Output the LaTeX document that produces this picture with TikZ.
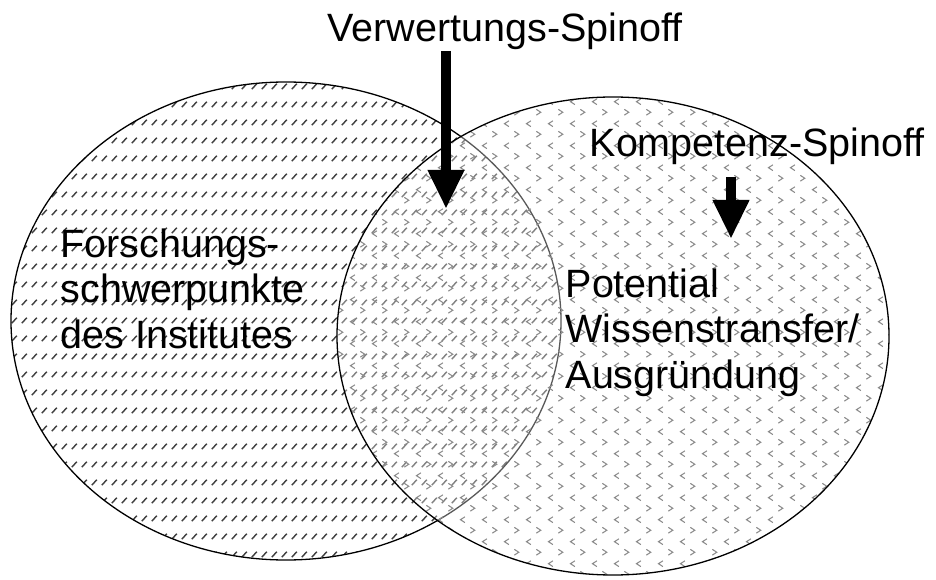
\documentclass[tikz,border=0pt]{standalone}
\usepackage{fontspec}
\setmainfont{Liberation Sans}
\usepackage{tikz}
\usetikzlibrary{arrows.meta,patterns,calc}
\pgfdeclarepatternformonly{slashrows}{\pgfqpoint{0pt}{0pt}}{\pgfqpoint{10pt}{17.5pt}}{\pgfqpoint{10pt}{17.5pt}}{
	\pgfsetlinewidth{1.5pt}
	\pgfpathmoveto{\pgfqpoint{2pt}{5pt}}
	\pgfpathlineto{\pgfqpoint{7.5pt}{10.5pt}}
	\pgfusepath{stroke}}
\pgfdeclarepatternformonly{chevrons}{\pgfqpoint{0pt}{0pt}}{\pgfqpoint{21.7pt}{22pt}}{\pgfqpoint{21.7pt}{22pt}}{
	\pgfsetlinewidth{1.1pt}
	\pgfpathmoveto{\pgfqpoint{8pt}{20pt}}
	\pgfpathlineto{\pgfqpoint{3.5pt}{17pt}}
	\pgfpathlineto{\pgfqpoint{8pt}{14pt}}
	\pgfpathmoveto{\pgfqpoint{13.5pt}{9pt}}
	\pgfpathlineto{\pgfqpoint{18pt}{6pt}}
	\pgfpathlineto{\pgfqpoint{13.5pt}{3pt}}
	\pgfusepath{stroke}}
\tikzset{
	venn label/.style={font=\fontsize{39.5}{45.5}\selectfont, inner sep=0pt, align=left},
	venn set/.style={x radius=#1, y radius=239pt},
	research/.style={pattern=slashrows, pattern color=black!75},
	transfer/.style={pattern=chevrons, pattern color=black!45},
	spinoff/.style={line width=10pt, -{Triangle[width=34pt,length=39pt]}}
}

\begin{document}
\begin{tikzpicture}[x=1pt,y=1pt,line width=1.3pt]
  \fill[white] (0,0) rectangle (936,579);
  \coordinate (L) at (286,258);
  \coordinate (R) at (613,243);
  \fill[research] (L) ellipse [venn set=275pt];
  \draw (L) ellipse [venn set=275pt];
  \fill[white, fill opacity=.35] (R) ellipse [venn set=276pt];
  \fill[transfer] (R) ellipse [venn set=276pt];
  \draw (R) ellipse [venn set=276pt];
  \node [venn label, anchor=base west] (verw) at (327,537) {Verwertungs-Spinoff};
  \node [venn label, anchor=base west] (komp) at (589,422) {Kompetenz-Spinoff};
  \node [venn label, anchor=base west] (forsch) at (60,231) {Forschungs-\\schwerpunkte\\des Institutes};
  \node [venn label, anchor=base west] (potential) at (565,191) {Potential\\Wissenstransfer/\\Ausgründung};
  \coordinate (verwtip) at (446,370);
  \coordinate (komptip) at (731,340);
  \draw [spinoff] (verw.south -| verwtip) -- (verwtip);
  \draw [spinoff] ($(komp.south -| komptip)+(0,-11)$) -- (komptip);
\end{tikzpicture}
\end{document}
